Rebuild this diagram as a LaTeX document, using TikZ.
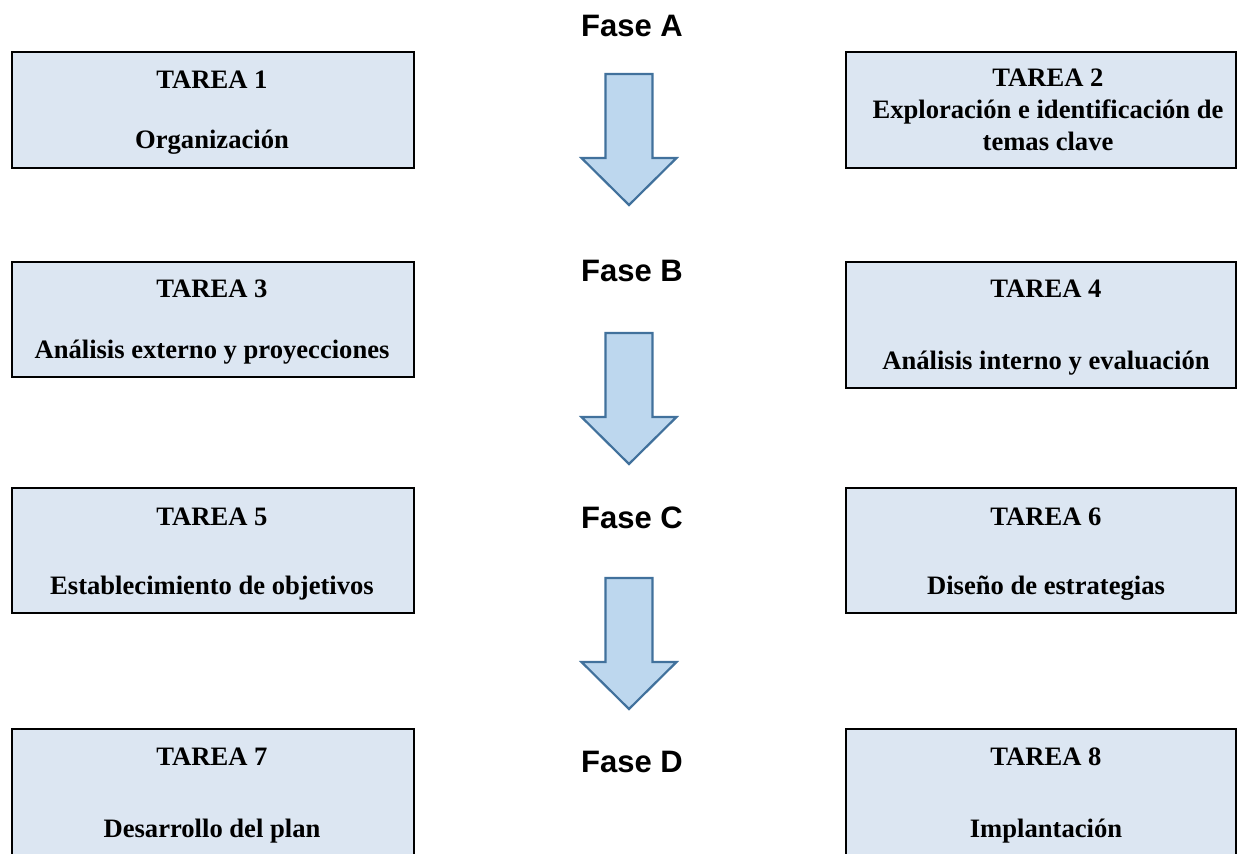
\documentclass[tikz,border=0pt]{standalone}
\usepackage{fontspec}
\setmainfont{Liberation Serif}
\newfontfamily\phasefont{Liberation Sans}
\definecolor{boxfill}{HTML}{DCE6F2}
\definecolor{arrowfill}{HTML}{BDD7EE}
\definecolor{arrowline}{HTML}{41719C}

\begin{document}
\begin{tikzpicture}[x=1pt,y=-1pt,
  taskbox/.style={draw=black, line width=1.6pt, fill=boxfill, inner sep=0pt,
                  anchor=north west},
  tasklabel/.style={font=\bfseries\fontsize{26.6}{30}\selectfont, inner sep=0pt, anchor=base},
  phaselabel/.style={font=\phasefont\bfseries\fontsize{31}{36}\selectfont, inner sep=0pt, anchor=base},
  blockarrow/.style={draw=arrowline, line width=2.2pt, fill=arrowfill, line join=miter},
  pics/downarrow/.style={code={
    % shaft 47 wide, head 95 wide, drawn from the top of the shaft
    \path[blockarrow] (-23.5,0) -- (23.5,0) -- (23.5,#1) -- (47.5,#1) -- (0,#1+47)
      -- (-47.5,#1) -- (-23.5,#1) -- cycle;
  }}]
\useasboundingbox (0,0) rectangle (1237,854);
\clip (0,0) rectangle (1237,854);

% task boxes, left and right columns
\node[taskbox, minimum width=402pt, minimum height=116pt] (b1) at (11,51) {};
\node[taskbox, minimum width=390pt, minimum height=116pt] (b2) at (845,51) {};
\node[taskbox, minimum width=402pt, minimum height=115pt] (b3) at (11,261) {};
\node[taskbox, minimum width=390pt, minimum height=126pt] (b4) at (845,261) {};
\node[taskbox, minimum width=402pt, minimum height=125pt] (b5) at (11,487) {};
\node[taskbox, minimum width=390pt, minimum height=125pt] (b6) at (845,487) {};
\node[taskbox, minimum width=402pt, minimum height=200pt] (b7) at (11,728) {};
\node[taskbox, minimum width=390pt, minimum height=200pt] (b8) at (845,728) {};

% box texts
\node[tasklabel] (t1a) at (212,88) {TAREA 1};
\node[tasklabel] (t1b) at (212,148) {Organización};
\node[tasklabel] (t2a) at (1048,86) {TAREA 2};
\node[tasklabel] (t2b) at (1048,118) {Exploración e identificación de};
\node[tasklabel] (t2c) at (1048,150) {temas clave};
\node[tasklabel] (t3a) at (212,297) {TAREA 3};
\node[tasklabel] (t3b) at (212,358) {Análisis externo y proyecciones};
\node[tasklabel] (t4a) at (1046,297) {TAREA 4};
\node[tasklabel] (t4b) at (1046,369) {Análisis interno y evaluación};
\node[tasklabel] (t5a) at (212,525) {TAREA 5};
\node[tasklabel] (t5b) at (212,594) {Establecimiento de objetivos};
\node[tasklabel] (t6a) at (1046,525) {TAREA 6};
\node[tasklabel] (t6b) at (1046,594) {Diseño de estrategias};
\node[tasklabel] (t7a) at (212,765) {TAREA 7};
\node[tasklabel] (t7b) at (212,837) {Desarrollo del plan};
\node[tasklabel] (t8a) at (1046,765) {TAREA 8};
\node[tasklabel] (t8b) at (1046,837) {Implantación};

% phase titles
\node[phaselabel] (fa) at (632,36) {Fase A};
\node[phaselabel] (fb) at (632,281) {Fase B};
\node[phaselabel] (fc) at (632,528) {Fase C};
\node[phaselabel] (fd) at (632,772) {Fase D};

% block arrows between phases
\pic at (629,74) {downarrow=84};
\pic at (629,333) {downarrow=84};
\pic at (629,578) {downarrow=84};
\end{tikzpicture}
\end{document}
